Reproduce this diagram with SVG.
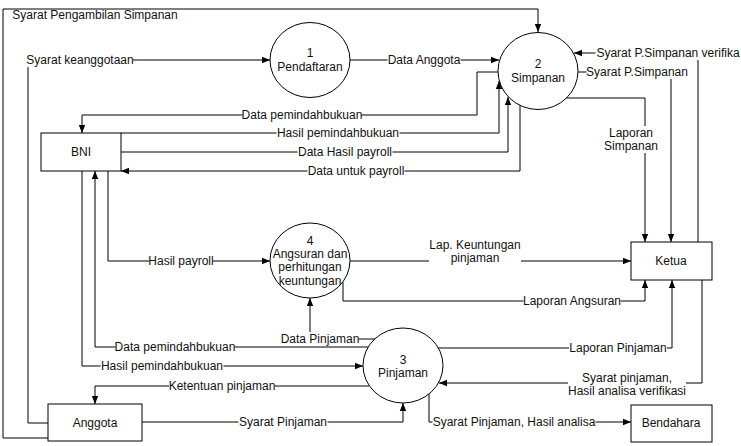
<svg xmlns="http://www.w3.org/2000/svg" width="741" height="446" viewBox="0 0 741 446">
<style>
.ln{fill:none;stroke:#000;stroke-width:1}
.nd{fill:#fff;stroke:#000;stroke-width:1}
.t{font-family:"Liberation Sans",Arial,sans-serif;font-size:12px;fill:#111;text-anchor:middle}
.bg{fill:#fff}
</style>
<defs>
<marker id="a" viewBox="0 0 10 10" refX="10" refY="5" markerWidth="8" markerHeight="8" orient="auto" markerUnits="userSpaceOnUse">
<path d="M0,1 L10,5 L0,9 z" fill="#000"/>
</marker>
</defs>
<rect width="741" height="446" fill="#fff"/>
<g id="connectors">
<path class="ln" d="M48,438 H3 V9 H538 V32" marker-end="url(#a)"/>
<path class="ln" d="M48,423 H28 V60 H270" marker-end="url(#a)"/>
<path class="ln" d="M350,60 H499" marker-end="url(#a)"/>
<path class="ln" d="M498,72 H477 V115 H82 V133" marker-end="url(#a)"/>
<path class="ln" d="M121,133 H499 V81" marker-end="url(#a)"/>
<path class="ln" d="M121,152 H508 V97" marker-end="url(#a)"/>
<path class="ln" d="M520,105 V171 H121" marker-end="url(#a)"/>
<path class="ln" d="M698,242 V53 H574" marker-end="url(#a)"/>
<path class="ln" d="M578,72 H671 V242" marker-end="url(#a)"/>
<path class="ln" d="M566,98 H645 V242" marker-end="url(#a)"/>
<path class="ln" d="M108,171 V261 H270" marker-end="url(#a)"/>
<path class="ln" d="M350,261 H631" marker-end="url(#a)"/>
<path class="ln" d="M343,282 V301 H645 V280" marker-end="url(#a)"/>
<path class="ln" d="M375,339 H310 V298" marker-end="url(#a)"/>
<path class="ln" d="M368,347 H95 V171" marker-end="url(#a)"/>
<path class="ln" d="M82,171 V366 H363" marker-end="url(#a)"/>
<path class="ln" d="M369,386 H95 V404" marker-end="url(#a)"/>
<path class="ln" d="M142,422 H403 V403" marker-end="url(#a)"/>
<path class="ln" d="M429,394 V422 H631" marker-end="url(#a)"/>
<path class="ln" d="M438,348 H672 V280" marker-end="url(#a)"/>
<path class="ln" d="M702,280 V383 H439" marker-end="url(#a)"/>
<g id="labels">
<text class="t" x="95" y="19">Syarat Pengambilan Simpanan</text>
<rect class="bg" x="27" y="53" width="106" height="14"/><text class="t" x="80" y="64">Syarat keanggotaan</text>
<rect class="bg" x="387.5" y="53" width="73" height="14"/><text class="t" x="424" y="64">Data Anggota</text>
<rect class="bg" x="242.5" y="108" width="119" height="14"/><text class="t" x="302" y="119">Data pemindahbukuan</text>
<rect class="bg" x="276.5" y="126" width="123" height="14"/><text class="t" x="338" y="137">Hasil pemindahbukuan</text>
<rect class="bg" x="297.5" y="145" width="95" height="14"/><text class="t" x="345" y="156">Data Hasil payroll</text>
<rect class="bg" x="307.5" y="164" width="97" height="14"/><text class="t" x="356" y="175">Data untuk payroll</text>
<rect class="bg" x="595.5" y="46" width="145" height="14"/><text class="t" x="668" y="57">Syarat P.Simpanan verifika</text>
<rect class="bg" x="586.5" y="65" width="101" height="14"/><text class="t" x="637" y="76">Syarat P.Simpanan</text>
<rect class="bg" x="604" y="126" width="54" height="27"/><text class="t" x="631" y="137">Laporan</text><text class="t" x="631" y="150">Simpanan</text>
<rect class="bg" x="149" y="254" width="64" height="14"/><text class="t" x="181" y="265">Hasil payroll</text>
<rect class="bg" x="429" y="238" width="92" height="27"/><text class="t" x="475" y="249">Lap. Keuntungan</text><text class="t" x="475" y="262">pinjaman</text>
<rect class="bg" x="523.5" y="294" width="97" height="14"/><text class="t" x="572" y="305">Laporan Angsuran</text>
<rect class="bg" x="281.5" y="332" width="77" height="14"/><text class="t" x="320" y="343">Data Pinjaman</text>
<rect class="bg" x="115.5" y="340" width="119" height="14"/><text class="t" x="175" y="351">Data pemindahbukuan</text>
<rect class="bg" x="100.5" y="359" width="123" height="14"/><text class="t" x="162" y="370">Hasil pemindahbukuan</text>
<rect class="bg" x="169" y="379" width="106" height="14"/><text class="t" x="222" y="390">Ketentuan pinjaman</text>
<rect class="bg" x="238.5" y="415" width="89" height="14"/><text class="t" x="283" y="426">Syarat Pinjaman</text>
<rect class="bg" x="432.5" y="415" width="163" height="14"/><text class="t" x="514" y="426">Syarat Pinjaman, Hasil analisa</text>
<rect class="bg" x="569" y="341" width="98" height="14"/><text class="t" x="618" y="352">Laporan Pinjaman</text>
<rect class="bg" x="568" y="371" width="118" height="27"/><text class="t" x="627" y="382">Syarat pinjaman,</text><text class="t" x="627" y="395">Hasil analisa verifikasi</text>
</g>
</g>
<g id="p1"><ellipse class="nd" cx="310" cy="60" rx="40" ry="37.5"/><text class="t" x="310" y="57">1</text><text class="t" x="310" y="71">Pendaftaran</text></g>
<g id="p2"><ellipse class="nd" cx="538" cy="71" rx="40" ry="38.5"/><text class="t" x="538" y="68">2</text><text class="t" x="538" y="82">Simpanan</text></g>
<g id="p4"><ellipse class="nd" cx="310" cy="260.5" rx="40" ry="37.5"/><text class="t" x="310" y="245">4</text><text class="t" x="310" y="258">Angsuran dan</text><text class="t" x="310" y="271">perhitungan</text><text class="t" x="310" y="285">keuntungan</text></g>
<g id="p3"><ellipse class="nd" cx="403" cy="365.5" rx="40" ry="37.5"/><text class="t" x="403" y="364">3</text><text class="t" x="403" y="377">Pinjaman</text></g>
<g id="bni"><rect class="nd" x="41" y="133" width="80" height="38"/><text class="t" x="81" y="156">BNI</text></g>
<g id="anggota"><rect class="nd" x="48" y="404" width="94" height="37"/><text class="t" x="95" y="427">Anggota</text></g>
<g id="ketua"><rect class="nd" x="631" y="242" width="81" height="38"/><text class="t" x="671" y="265">Ketua</text></g>
<g id="bendahara"><rect class="nd" x="631" y="405" width="81" height="37"/><text class="t" x="671" y="427">Bendahara</text></g>
</svg>
